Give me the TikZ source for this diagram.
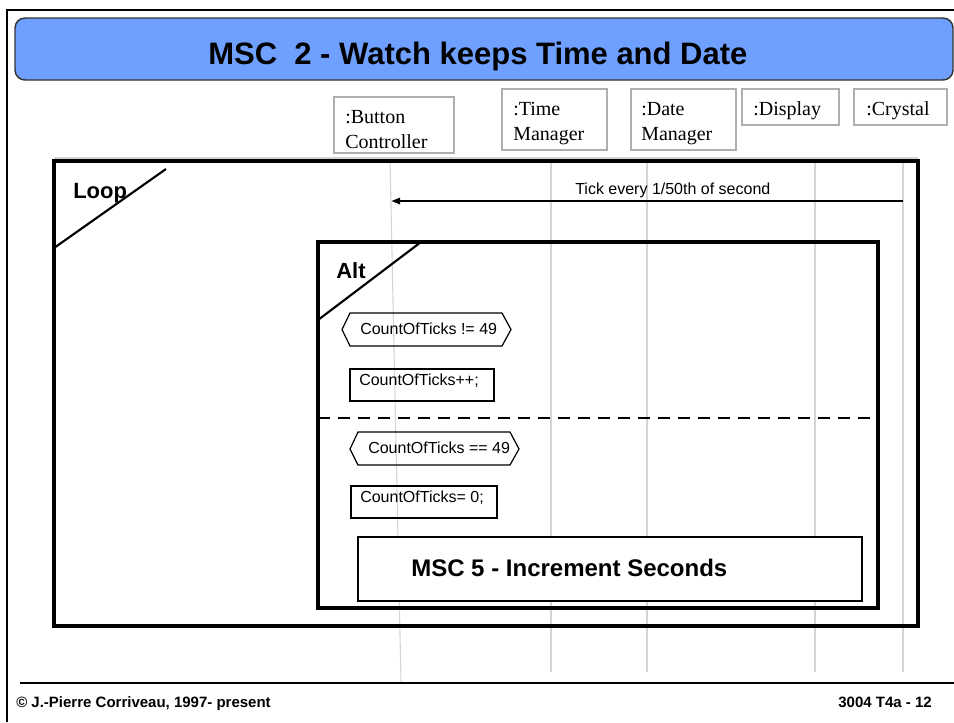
\documentclass[tikz,border=0pt]{standalone}
\usepackage{fontspec}
\setmainfont{Liberation Sans}
\newfontfamily\serifhead{Liberation Serif}
\usetikzlibrary{arrows.meta}
\definecolor{titleblue}{RGB}{111,160,255}
\definecolor{lifegray}{RGB}{212,212,212}
\definecolor{headgray}{RGB}{175,175,175}
\begin{document}
\begin{tikzpicture}[x=0.75pt,y=-0.75pt,
  lifeline/.style={draw=lifegray,line width=0.8pt},
  headbox/.style={draw=headgray,line width=0.8pt,fill=white},
  headtxt/.style={anchor=base west,inner sep=0pt,font=\serifhead\fontsize{15}{18}\selectfont},
  smalltxt/.style={anchor=base west,inner sep=0pt,font=\fontsize{12}{14}\selectfont},
  labeltxt/.style={anchor=base west,inner sep=0pt,font=\bfseries\fontsize{16.5}{19}\selectfont},
  foottxt/.style={inner sep=0pt,font=\bfseries\fontsize{11.25}{13}\selectfont},
  thinbox/.style={draw=black,line width=0.9pt},
  framebox/.style={draw=black,line width=2.5pt},
]
\useasboundingbox (0,0) rectangle (954,722);

% lifelines
\coordinate (bc-top) at (390,158);  \coordinate (bc-bot) at (401,682);
\coordinate (tm-top) at (551,158);  \coordinate (tm-bot) at (551,672);
\coordinate (dm-top) at (647,158);  \coordinate (dm-bot) at (647,672);
\coordinate (di-top) at (815,158);  \coordinate (di-bot) at (815,672);
\coordinate (cr-top) at (903,158);  \coordinate (cr-bot) at (903,672);
\draw[lifeline] (bc-top) -- (bc-bot);
\draw[lifeline] (tm-top) -- (tm-bot);
\draw[lifeline] (dm-top) -- (dm-bot);
\draw[lifeline] (di-top) -- (di-bot);
\draw[lifeline] (cr-top) -- (cr-bot);

% page frame
\draw[line width=2.2pt] (7,722) -- (7,10) -- (954,10);

% title bar
\draw[fill=titleblue,draw=black!80,line width=1.1pt,rounded corners=7.5pt] (15,18) rectangle (953,80);
\node[anchor=base west,inner sep=0pt,font=\bfseries\fontsize{23.25}{28}\selectfont] (title) at (208,64) {MSC\ \ 2 - Watch keeps Time and Date};

% heads
\draw[headbox] (334,97) rectangle (454,153);
\node[headtxt] (bc1) at (345,123) {:Button};
\node[headtxt] (bc2) at (345,148) {Controller};
\draw[headbox] (502,89) rectangle (607,150);
\node[headtxt] (tm1) at (513,115) {:Time};
\node[headtxt] (tm2) at (513,140) {Manager};
\draw[headbox] (631,89) rectangle (736,150);
\node[headtxt] (dm1) at (641,115) {:Date};
\node[headtxt] (dm2) at (641,140) {Manager};
\draw[headbox] (742,89) rectangle (839,125);
\node[headtxt] (di1) at (753,115) {:Display};
\draw[headbox] (854,89) rectangle (947,125);
\node[headtxt] (cr1) at (866,115) {:Crystal};

% loop frame
\draw[draw=lifegray,line width=0.8pt] (54,158) -- (918,158);
\draw[framebox] (54,161) rectangle (918,626);
\draw[line width=1.6pt] (54,248) -- (166,169);
\node[labeltxt] (loop) at (73,198) {Loop};

% tick message
\coordinate (cr-msg) at (903,201);
\coordinate (bc-msg) at (391.5,201);
\draw[line width=1.1pt,-{Triangle[length=6.5pt,width=5pt]}] (cr-msg) -- (bc-msg);
\node[smalltxt] (tick) at (575,194) {Tick every 1/50th of second};

% alt frame
\draw[draw=black,line width=3pt] (318,242) rectangle (878,608);
\draw[line width=1.6pt] (318,320) -- (421,242);
\node[labeltxt] (alt) at (336,278) {Alt};
\coordinate (sep-l) at (318,418);
\coordinate (sep-r) at (878,418);
\draw[line width=2pt,dash pattern=on 9pt off 6pt] (sep-l) -- (sep-r);

% first alternative
\draw[thinbox] (342,329.5) -- (350,313) -- (502,313) -- (511,329.5) -- (502,346) -- (350,346) -- cycle;
\node[smalltxt] (c1) at (360,334) {CountOfTicks != 49};
\draw[thinbox] (350,369) rectangle (494,401);
\node[smalltxt] (a1) at (359,385) {CountOfTicks++;};

% second alternative
\draw[thinbox] (350,449) -- (358,432) -- (510,432) -- (519,449) -- (510,465) -- (358,465) -- cycle;
\node[smalltxt] (c2) at (368,453) {CountOfTicks == 49};
\draw[thinbox] (351,486) rectangle (497,518);
\node[smalltxt] (a2) at (360,502) {CountOfTicks= 0;};

% reference box
\draw[draw=black,line width=2.2pt,fill=white] (358,537) rectangle (862,601);
\node[anchor=base west,inner sep=0pt,font=\bfseries\fontsize{18}{21}\selectfont] (msc5) at (411,576) {MSC 5 - Increment Seconds};

% footer
\draw[line width=1.1pt] (20,683) -- (954,683);
\node[foottxt,anchor=base west] (copy) at (16,707) {© J.-Pierre Corriveau, 1997- present};
\node[foottxt,anchor=base east] (pg) at (932,707) {3004 T4a - 12};
\end{tikzpicture}
\end{document}
